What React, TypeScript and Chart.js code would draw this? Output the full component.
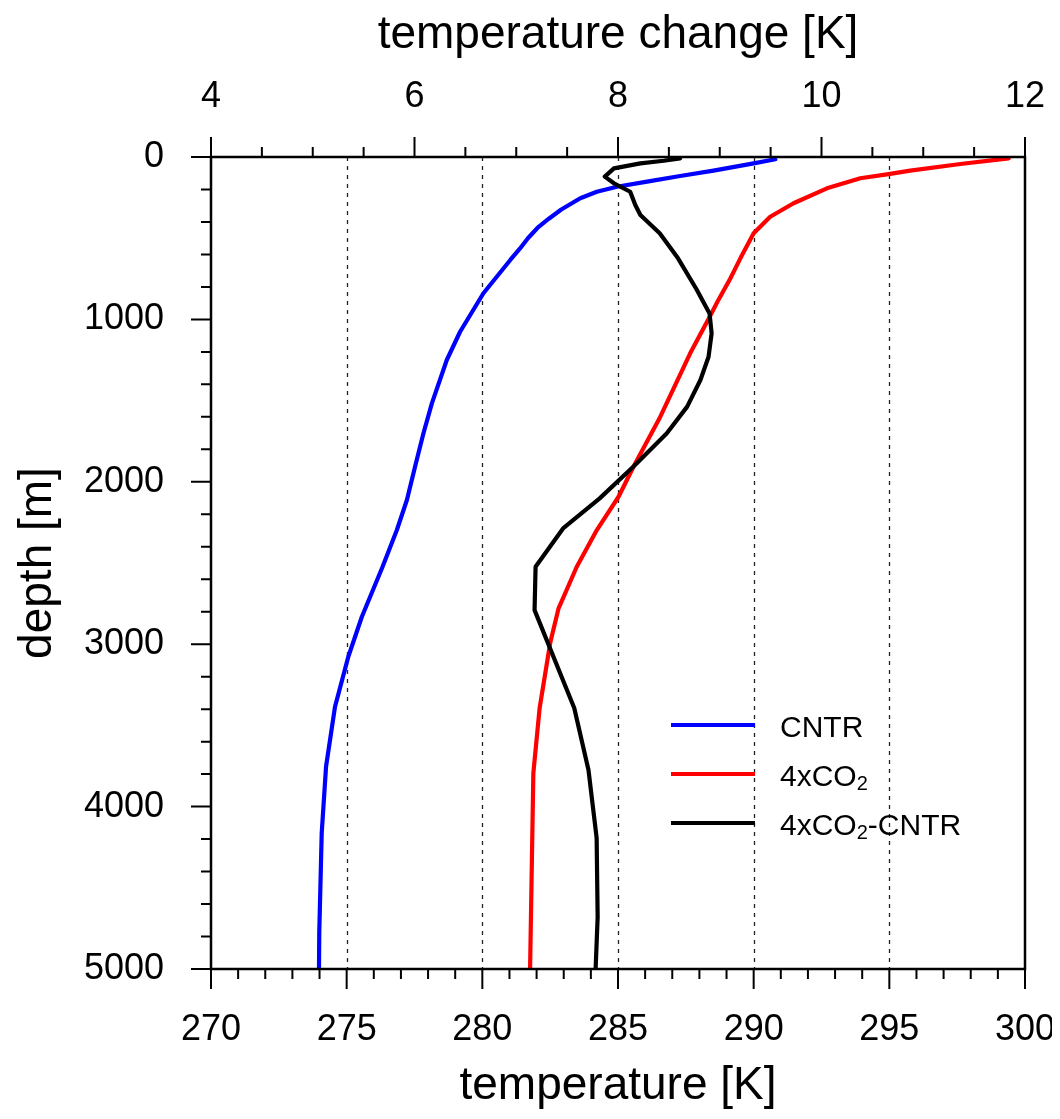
import React, { useEffect, useRef } from "react";
import { Chart, registerables } from "chart.js";

Chart.register(...registerables);

const FONT = "'Liberation Sans', Arial, Helvetica, sans-serif";

// CNTR profile: depth [m] and temperature [K]
const cntrDepth = [14, 39, 84, 117, 152, 183, 214, 254, 323, 380, 437, 500, 563, 634, 839, 1076, 1250, 1517, 1701, 1907, 2112, 2297, 2525, 2831, 3077, 3385, 3754, 4164, 4780, 5000];
const cntrTemp = [290.8, 290.0, 288.52, 287.29, 286.07, 284.96, 284.22, 283.61, 282.91, 282.45, 282.03, 281.68, 281.39, 281.03, 280.04, 279.18, 278.69, 278.14, 277.83, 277.52, 277.22, 276.85, 276.32, 275.56, 275.06, 274.57, 274.24, 274.08, 273.99, 273.98];

// 4xCO2 profile: depth [m] and temperature [K]
const co2Depth = [8, 43, 84, 105, 131, 193, 285, 368, 470, 624, 751, 880, 981, 1209, 1599, 1907, 2092, 2297, 2523, 2779, 2993, 3395, 3795, 5000];
const co2Temp = [299.4, 297.62, 295.77, 294.97, 293.93, 292.7, 291.47, 290.61, 290.0, 289.51, 289.13, 288.7, 288.39, 287.66, 286.56, 285.57, 285.02, 284.22, 283.48, 282.81, 282.5, 282.11, 281.88, 281.76];

// 4xCO2-CNTR: depth [m] and temperature change [K]
const diffDepth = [8, 23, 39, 70, 121, 162, 214, 296, 357, 470, 624, 813, 963, 1086, 1230, 1373, 1537, 1701, 1907, 2102, 2287, 2523, 2790, 3393, 3775, 4193, 4680, 5000];
const diffVal = [8.61, 8.45, 8.22, 7.96, 7.87, 7.96, 8.12, 8.17, 8.22, 8.41, 8.59, 8.77, 8.9, 8.92, 8.89, 8.81, 8.68, 8.48, 8.15, 7.82, 7.46, 7.19, 7.18, 7.57, 7.71, 7.79, 7.8, 7.78];

// Axis tick labels
const tempTicks = [270, 275, 280, 285, 290, 295, 300];
const changeTicks = [4, 6, 8, 10, 12];
const depthTicks = [0, 1000, 2000, 3000, 4000, 5000];
const gridTemps = [275, 280, 285, 290, 295];

const seriesLabels = ["CNTR", "4xCO\u2082", "4xCO\u2082-CNTR"];
const seriesColors = ["#0000ff", "#ff0000", "#000000"];

const xTitle = "temperature [K]";
const x2Title = "temperature change [K]";
const yTitle = "depth [m]";

function drawSubText(ctx: CanvasRenderingContext2D, text: string, x: number, y: number, size: number) {
  const parts = text.split("\u2082");
  let cx = x;
  parts.forEach((p, i) => {
    ctx.font = `${size}px ${FONT}`;
    ctx.fillText(p, cx, y);
    cx += ctx.measureText(p).width;
    if (i < parts.length - 1) {
      const sub = Math.round(size * 0.66);
      ctx.font = `${sub}px ${FONT}`;
      ctx.fillText("2", cx, y + 4);
      cx += ctx.measureText("2").width;
    }
  });
}

const decor = {
  id: "decor",
  beforeDatasetsDraw(chart: any) {
    const { ctx, chartArea: a, scales } = chart;
    ctx.save();
    ctx.strokeStyle = "#222";
    ctx.lineWidth = 1.3;
    ctx.setLineDash([4, 5]);
    for (const v of gridTemps) {
      const px = Math.round(scales.x.getPixelForValue(v)) + 0.5;
      ctx.beginPath();
      ctx.moveTo(px, a.top);
      ctx.lineTo(px, a.bottom);
      ctx.stroke();
    }
    ctx.restore();
  },
  afterDraw(chart: any) {
    const { ctx, chartArea: a, scales } = chart;
    ctx.save();
    ctx.strokeStyle = "#000";
    ctx.setLineDash([]);
    // ticks
    ctx.lineWidth = 2;
    ctx.beginPath();
    for (let v = 270; v <= 300; v += 1) {
      const px = scales.x.getPixelForValue(v);
      const len = v % 5 === 0 ? 20 : 10;
      ctx.moveTo(px, a.bottom);
      ctx.lineTo(px, a.bottom + len);
    }
    for (let k = 0; k <= 16; k++) {
      const v = 4 + k * 0.5;
      const px = scales.x2.getPixelForValue(v);
      const len = k % 4 === 0 ? 20 : 10;
      ctx.moveTo(px, a.top);
      ctx.lineTo(px, a.top - len);
    }
    for (let v = 0; v <= 5000; v += 200) {
      const py = scales.y.getPixelForValue(v);
      const len = v % 1000 === 0 ? 20 : 10;
      ctx.moveTo(a.left, py);
      ctx.lineTo(a.left - len, py);
    }
    ctx.stroke();
    // frame
    ctx.lineWidth = 2.5;
    ctx.strokeRect(a.left, a.top, a.right - a.left, a.bottom - a.top);

    // titles
    ctx.fillStyle = "#000";
    ctx.font = `46px ${FONT}`;
    ctx.textAlign = "center";
    ctx.textBaseline = "alphabetic";
    const cx = (a.left + a.right) / 2;
    ctx.fillText(x2Title, cx, 40);
    ctx.fillText(xTitle, cx, 1091);
    ctx.save();
    ctx.translate(43, (a.top + a.bottom) / 2);
    ctx.rotate(-Math.PI / 2);
    ctx.fillText(yTitle, 0, 0);
    ctx.restore();

    // legend
    const ly = [717, 766, 815];
    ctx.textAlign = "left";
    seriesLabels.forEach((lab, i) => {
      ctx.strokeStyle = seriesColors[i];
      ctx.lineWidth = 4;
      ctx.beginPath();
      ctx.moveTo(663, ly[i]);
      ctx.lineTo(747, ly[i]);
      ctx.stroke();
      ctx.fillStyle = "#000";
      drawSubText(ctx, lab, 772, ly[i] + 12, 30);
    });
    ctx.restore();
  },
};

const zeroPad = (s: any) => {
  s.paddingLeft = 0;
  s.paddingRight = 0;
  s.paddingTop = 0;
  s.paddingBottom = 0;
};

export default function App() {
  const ref = useRef<HTMLCanvasElement>(null);
  useEffect(() => {
    const canvas = ref.current!;
    const tickFont = { family: FONT, size: 36 };
    const plain = (v: any) => String(v);
    const chart = new Chart(canvas, {
      type: "scatter",
      data: {
        datasets: [
          {
            label: seriesLabels[0],
            data: cntrDepth.map((d, i) => ({ x: cntrTemp[i], y: d })),
            borderColor: seriesColors[0],
            backgroundColor: seriesColors[0],
            borderWidth: 4.2,
            showLine: true,
            pointRadius: 0,
            xAxisID: "x",
            yAxisID: "y",
            order: 3,
          },
          {
            label: seriesLabels[1],
            data: co2Depth.map((d, i) => ({ x: co2Temp[i], y: d })),
            borderColor: seriesColors[1],
            backgroundColor: seriesColors[1],
            borderWidth: 4.2,
            showLine: true,
            pointRadius: 0,
            xAxisID: "x",
            yAxisID: "y",
            order: 2,
          },
          {
            label: seriesLabels[2],
            data: diffDepth.map((d, i) => ({ x: diffVal[i], y: d })),
            borderColor: seriesColors[2],
            backgroundColor: seriesColors[2],
            borderWidth: 4.2,
            showLine: true,
            pointRadius: 0,
            xAxisID: "x2",
            yAxisID: "y",
            order: 1,
          },
        ],
      },
      options: {
        animation: false,
        responsive: false,
        devicePixelRatio: 1,
        layout: { padding: { left: 0, right: 27, top: 0, bottom: 0 } },
        plugins: { legend: { display: false }, tooltip: { enabled: false } },
        elements: { line: { tension: 0, borderCapStyle: "round", borderJoinStyle: "round" } },
        scales: {
          x: {
            type: "linear",
            position: "bottom",
            min: 270,
            max: 300,
            grid: { display: false, drawTicks: false },
            border: { display: false },
            afterBuildTicks: (s: any) => { s.ticks = tempTicks.map((v) => ({ value: v })); },
            ticks: { color: "#000", font: tickFont, padding: 39, maxRotation: 0, autoSkip: false, callback: plain },
            afterFit: (s: any) => { s.height = 142; zeroPad(s); },
          },
          x2: {
            type: "linear",
            position: "top",
            min: 4,
            max: 12,
            grid: { display: false, drawTicks: false },
            border: { display: false },
            afterBuildTicks: (s: any) => { s.ticks = changeTicks.map((v) => ({ value: v })); },
            ticks: { color: "#000", font: tickFont, padding: 38, maxRotation: 0, autoSkip: false, callback: plain },
            afterFit: (s: any) => { s.height = 149; zeroPad(s); },
          },
          y: {
            type: "linear",
            position: "left",
            reverse: true,
            min: 0,
            max: 5000,
            grid: { display: false, drawTicks: false },
            border: { display: false },
            afterBuildTicks: (s: any) => { s.ticks = depthTicks.map((v) => ({ value: v })); },
            ticks: { color: "#000", font: tickFont, padding: 47, autoSkip: false, callback: plain },
            afterFit: (s: any) => { s.width = 203; zeroPad(s); },
          },
        },
      } as any,
      plugins: [decor],
    });
    return () => chart.destroy();
  }, []);
  return <canvas ref={ref} width={1044} height={1103} style={{ display: "block" }} />;
}
